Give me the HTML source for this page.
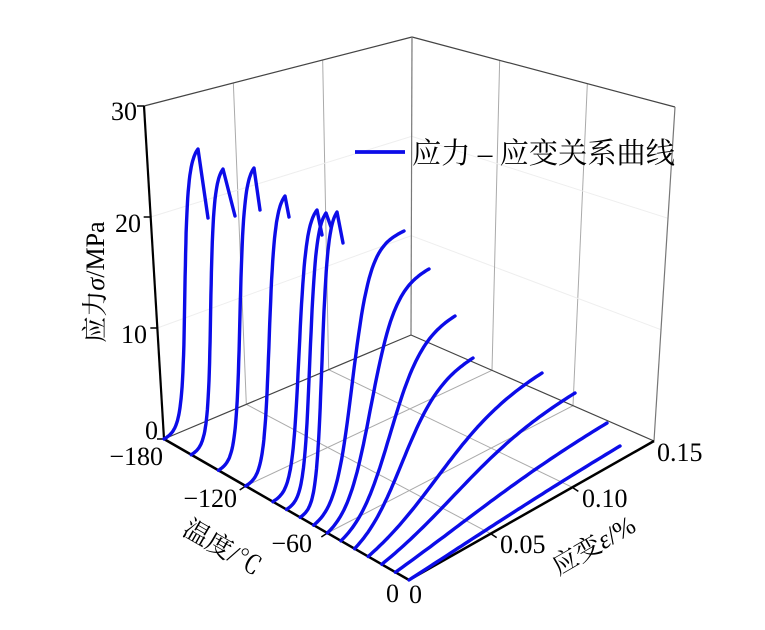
<!DOCTYPE html>
<html><head><meta charset="utf-8"><style>
html,body{margin:0;padding:0;background:#fff;}
svg{display:block;}
text{font-family:"Liberation Serif","Noto Serif CJK SC","Noto Sans CJK SC",serif;fill:#000;}
</style></head><body>
<svg id="s" width="765" height="630" viewBox="0 0 765 630" xmlns="http://www.w3.org/2000/svg">
<g id="grid"></g>
<g id="axes"></g>
<g id="curves" fill="none" stroke="#0c0ce8" stroke-width="3.4" stroke-linejoin="round" stroke-linecap="round"></g>
<line x1="355" y1="152" x2="405" y2="152" stroke="#0c0ce8" stroke-width="3.8"/>
<text x="412" y="163" font-size="29" textLength="263" lengthAdjust="spacingAndGlyphs">应力 – 应变关系曲线</text>
<g font-size="26">
<text x="137" y="120" text-anchor="end">30</text>
<text x="141" y="232" text-anchor="end">20</text>
<text x="147" y="343" text-anchor="end">10</text>
<text x="158" y="439" text-anchor="end">0</text>
<text x="163" y="465" text-anchor="end">−180</text>
<text x="237" y="507" text-anchor="end">−120</text>
<text x="312" y="552" text-anchor="end">−60</text>
<text x="386" y="602">0</text>
<text x="409" y="603">0</text>
<text x="500" y="553">0.05</text>
<text x="582" y="507">0.10</text>
<text x="657" y="461">0.15</text>
</g>
<text font-size="26" transform="translate(104,282) rotate(-90)" text-anchor="middle">应力<tspan font-style="italic">σ</tspan>/MPa</text>
<text font-size="26" transform="translate(218,555) rotate(30)" text-anchor="middle">温度/℃</text>
<text font-size="26" transform="translate(598,553) rotate(-30)" text-anchor="middle">应变<tspan font-style="italic">ε</tspan>/%</text>
</svg>
<script>
(function(){
var F=[409,580],L=[164,439],R=[654,441],Bk=[411,335];
var FT=[409,208],LT=[144,106],RT=[675,107],BT=[412,37];
function bil(a,b,c,d,u,v){
  return [a[0]+u*(b[0]-a[0])+v*(c[0]-a[0])+u*v*(d[0]-b[0]-c[0]+a[0]),
          a[1]+u*(b[1]-a[1])+v*(c[1]-a[1])+u*v*(d[1]-b[1]-c[1]+a[1])];}
function P(u,v,w){var b=bil(F,L,R,Bk,u,v),t=bil(FT,LT,RT,BT,u,v);return [b[0]+w*(t[0]-b[0]),b[1]+w*(t[1]-b[1])];}
function solve(u,tx,ty){var v=0.3,w=0.5;for(var i=0;i<40;i++){var p=P(u,v,w),h=1e-4;
 var pv=P(u,v+h,w),pw=P(u,v,w+h);var a=(pv[0]-p[0])/h,b=(pw[0]-p[0])/h,c=(pv[1]-p[1])/h,d=(pw[1]-p[1])/h;
 var ex=tx-p[0],ey=ty-p[1],det=a*d-b*c;v+=(d*ex-b*ey)/det;w+=(-c*ex+a*ey)/det;}return [v,w];}
var NS="http://www.w3.org/2000/svg";
function line(g,p,q,col,wd){var e=document.createElementNS(NS,"line");e.setAttribute("x1",p[0]);e.setAttribute("y1",p[1]);e.setAttribute("x2",q[0]);e.setAttribute("y2",q[1]);e.setAttribute("stroke",col);e.setAttribute("stroke-width",wd);g.appendChild(e);}
var G=document.getElementById("grid"),A=document.getElementById("axes"),C=document.getElementById("curves");
[1/3,2/3].forEach(function(f){
  line(G,P(1,f,0),P(1,f,1),"#aaa",1);
  line(G,P(f,1,0),P(f,1,1),"#aaa",1);
  line(G,P(f,0,0),P(f,1,0),"#aaa",1);
  line(G,P(0,f,0),P(1,f,0),"#aaa",1);
  line(G,P(1,0,f),P(1,1,f),"#eee",1);
  line(G,P(0,1,f),P(1,1,f),"#eee",1);
});
line(A,P(1,0,1),P(1,1,1),"#444",1.2);
line(A,P(1,1,1),P(0,1,1),"#444",1.2);
line(A,P(1,1,0),P(1,1,1),"#777",1.2);
line(A,P(0,1,0),P(0,1,1),"#777",1.2);
line(A,P(1,0,0),P(1,1,0),"#444",1.2);
line(A,P(1,1,0),P(0,1,0),"#444",1.2);
line(A,P(1,0,0),P(1,0,1),"#000",2.2);
line(A,F,L,"#000",2.5);line(A,F,R,"#000",2.5);
[0,1/3,2/3,1].forEach(function(f){var p=P(1,0,f);line(A,p,[p[0]-7,p[1]],"#000",1.5);});
[1/3,2/3].forEach(function(f){var p=P(f,0,0);line(A,p,[p[0]-6,p[1]+4],"#000",1.5);var q=P(0,f,0);line(A,q,[q[0]+6,q[1]+4],"#000",1.5);});
function lg(x,c,k){return 1/(1+Math.exp(-(x-c)/k));}
function g(x,c,k){return (lg(x,c,k)-lg(0,c,k))/(lg(1,c,k)-lg(0,c,k));}
function draw(pts){var e=document.createElementNS(NS,"polyline");e.setAttribute("points",pts.map(function(p){return p[0].toFixed(1)+","+p[1].toFixed(1);}).join(" "));C.appendChild(e);}
var brittle=[[-180,198,149,208,218],[-160,223,169,235,216],[-140,254,168,260,210],[-120,285,196,289,217],[-100,317,210,322,235],[-90,326,213,331,227],[-80,337,212,343,243]];
brittle.forEach(function(b){var u=-b[0]/180,pk=solve(u,b[1],b[2]),en=solve(u,b[3],b[4]);var pts=[];
 for(var i=0;i<=60;i++){var x=i/60;pts.push(P(u,pk[0]*x,pk[1]*g(x,0.6,0.1)));}
 pts.push(P(u,en[0],en[1]));draw(pts);});
var smooth=[[-70,404,231,.45,.1],[-60,429,269,.45,.12],[-50,455,316,.45,.14],[-40,473,358,.42,.16],[-30,542,373,.42,.2],[-20,575,393,.4,.22],[-10,607,423,.35,.3],[0,620,446,.3,.45]];
smooth.forEach(function(s){var u=-s[0]/180,en=solve(u,s[1],s[2]);var pts=[];
 for(var i=0;i<=60;i++){var x=i/60;pts.push(P(u,en[0]*x,en[1]*g(x,s[3],s[4])));}draw(pts);});
})();
</script>
</body></html>
